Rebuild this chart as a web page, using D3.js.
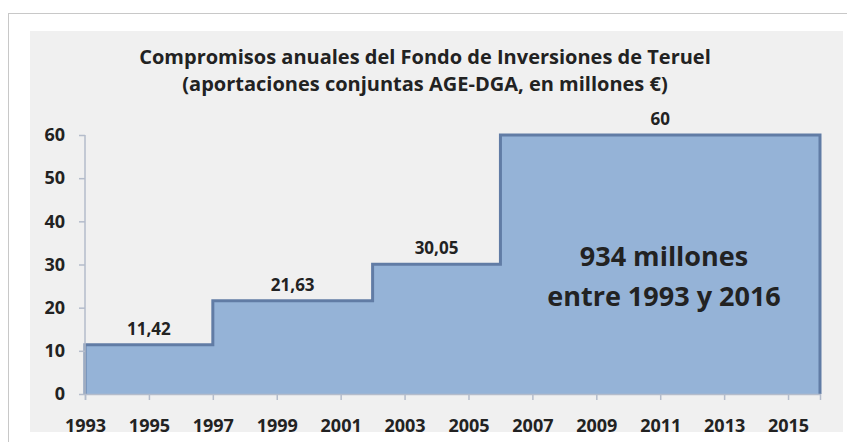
<!DOCTYPE html>
<html>
<head>
<meta charset="utf-8">
<script src="https://cdn.jsdelivr.net/npm/d3@7"></script>
<style>
  body { margin: 0; background: #fff; }
  text { font-family: "Open Sans", sans-serif; font-weight: bold; fill: #222; }
</style>
</head>
<body>
<svg id="chart" width="847" height="442"></svg>
<script>
// Step periods (start year, end year) and annual commitment, millions €
var periodStart = [1993, 1997, 2002, 2006];
var periodEnd   = [1997, 2002, 2006, 2016];
var amounts     = [11.42, 21.63, 30.05, 60];
var amountLabels = ["11,42", "21,63", "30,05", "60"];
var yearTicks = [1993, 1995, 1997, 1999, 2001, 2003, 2005, 2007, 2009, 2011, 2013, 2015];
var valueTicks = [0, 10, 20, 30, 40, 50, 60];
var titleLines = ["Compromisos anuales del Fondo de Inversiones de Teruel",
                  "(aportaciones conjuntas AGE-DGA, en millones €)"];
var noteLines = ["934 millones", "entre 1993 y 2016"];

var svg = d3.select("#chart");

// outer frame + grey plot panel
svg.append("rect").attr("x", 8.5).attr("y", 13.5).attr("width", 850).attr("height", 440)
  .attr("fill", "#fff").attr("stroke", "#c8c8c8");
svg.append("rect").attr("x", 30).attr("y", 31).attr("width", 813).attr("height", 401)
  .attr("fill", "#f0f0f0");

var x = d3.scaleLinear().domain([1993, 2016]).range([85, 820]);
var y = d3.scaleLinear().domain([0, 60]).range([394, 135]);

// step area built from the periods
var pts = [];
amounts.forEach(function(v, i) {
  pts.push([periodStart[i], v]);
  pts.push([periodEnd[i], v]);
});
var area = d3.area().x(d => x(d[0])).y0(y(0)).y1(d => y(d[1]));
var line = d3.line().x(d => x(d[0])).y(d => y(d[1]));

svg.append("path").datum(pts).attr("d", area).attr("fill", "#95b3d7");
svg.append("path")
  .datum([[1993, 0]].concat(pts).concat([[2016, 0]]))
  .attr("d", line).attr("fill", "none")
  .attr("stroke", "#617ca5").attr("stroke-width", 3).attr("stroke-linejoin", "miter");

// axes
var yAxis = svg.append("g").attr("transform", "translate(" + x(1993) + ",0)")
  .call(d3.axisLeft(y).tickValues(valueTicks).tickSize(6).tickPadding(14));
var xAxis = svg.append("g").attr("transform", "translate(0," + y(0) + ")")
  .call(d3.axisBottom(x).tickValues(yearTicks).tickFormat(d3.format("d")).tickSize(6).tickPadding(19));
[yAxis, xAxis].forEach(function(a) {
  a.selectAll("path, line").attr("stroke", "#b4bccb").attr("stroke-width", 1.5);
  a.selectAll("text").attr("font-size", 18).attr("fill", "#222");
});
yAxis.select(".domain").attr("d", "M0," + y(0) + "V" + y(60));

// value labels over each step
svg.selectAll("text.val").data(amounts).join("text")
  .attr("class", "val")
  .attr("x", (d, i) => x((periodStart[i] + periodEnd[i]) / 2))
  .attr("y", d => y(d) - 10)
  .attr("text-anchor", "middle").attr("font-size", 17)
  .text((d, i) => amountLabels[i]);

// title
svg.selectAll("text.title").data(titleLines).join("text")
  .attr("class", "title")
  .attr("x", 425).attr("y", (d, i) => 64 + i * 27)
  .attr("text-anchor", "middle").attr("font-size", 20)
  .text(d => d);

// note inside the big step
svg.selectAll("text.note").data(noteLines).join("text")
  .attr("class", "note")
  .attr("x", 664).attr("y", (d, i) => 266 + i * 40)
  .attr("text-anchor", "middle").attr("font-size", 27)
  .text(d => d);
</script>
</body>
</html>
